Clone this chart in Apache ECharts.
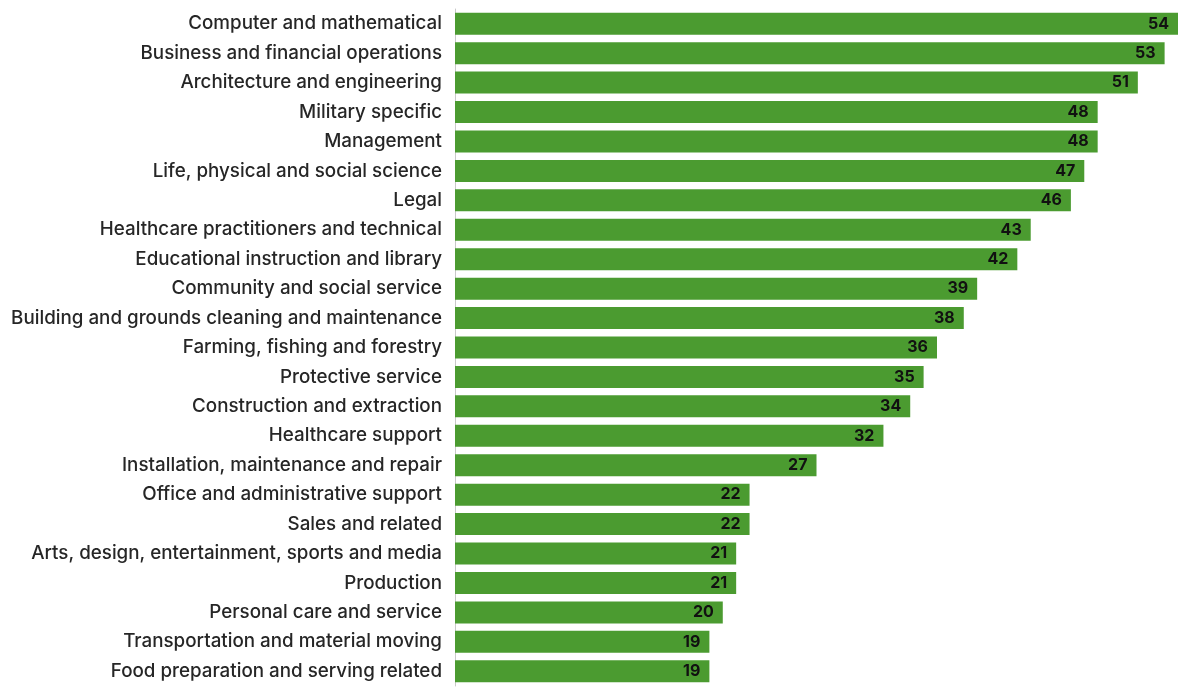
<!DOCTYPE html>
<html><head><meta charset="utf-8">
<script src="https://cdn.jsdelivr.net/npm/echarts@6/dist/echarts.min.js"></script>
<style>html,body{margin:0;padding:0;background:#fff}#c{width:1178px;height:687px}</style>
</head><body><div id="c"></div>
<script>
const categories = [
  "Computer and mathematical",
  "Business and financial operations",
  "Architecture and engineering",
  "Military specific",
  "Management",
  "Life, physical and social science",
  "Legal",
  "Healthcare practitioners and technical",
  "Educational instruction and library",
  "Community and social service",
  "Building and grounds cleaning and maintenance",
  "Farming, fishing and forestry",
  "Protective service",
  "Construction and extraction",
  "Healthcare support",
  "Installation, maintenance and repair",
  "Office and administrative support",
  "Sales and related",
  "Arts, design, entertainment, sports and media",
  "Production",
  "Personal care and service",
  "Transportation and material moving",
  "Food preparation and serving related"
];
const values = [54,53,51,48,48,47,46,43,42,39,38,36,35,34,32,27,22,22,21,21,20,19,19];

const chart = echarts.init(document.getElementById('c'));
chart.setOption({
  animation: false,
  grid: { left: 455, right: 0, top: 9, bottom: 1, containLabel: false },
  xAxis: { type: 'value', min: 0, max: 54, show: false },
  yAxis: {
    type: 'category', data: categories, inverse: true,
    axisLine: { show: true, lineStyle: { color: '#c8c8c8', width: 1 } },
    axisTick: { show: false },
    axisLabel: { fontFamily: 'Inter', fontSize: 18.8, fontWeight: 500, color: '#262626', margin: 13, padding: [4, 0, 0, 0] }
  },
  series: [{
    type: 'bar', data: values, barWidth: 22,
    itemStyle: { color: '#4b9b30' },
    label: { show: true, position: 'insideRight', distance: 9, padding: [4, 0, 0, 0],
      fontFamily: 'Inter', fontWeight: 'bold', fontSize: 16, color: '#111111' }
  }]
});
</script></body></html>
